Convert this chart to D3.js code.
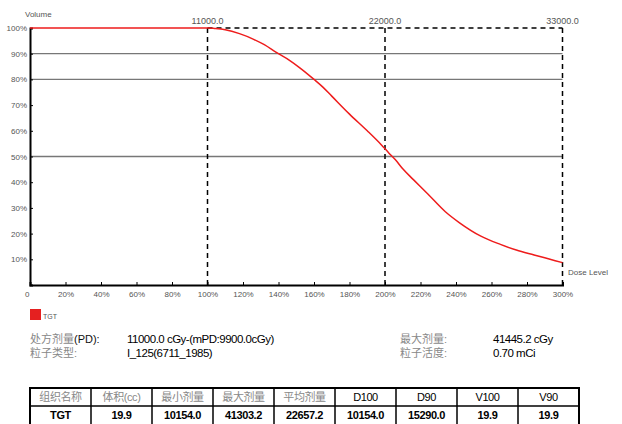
<!DOCTYPE html>
<html>
<head>
<meta charset="utf-8">
<script src="https://cdn.jsdelivr.net/npm/d3@7"></script>
<style>
  body { margin: 0; background: #fff; font-family: "Liberation Sans", Arial, "Noto Sans CJK SC", sans-serif; }
  svg text { font-family: "Liberation Sans", Arial, "Noto Sans CJK SC", sans-serif; }
</style>
</head>
<body>
<div id="chart"></div>
<script>
// DVH curve: dose as % of prescription, volume as %
var dosePct = [0, 100, 104, 110, 118, 126, 132, 139, 146, 152, 160, 165, 170, 180, 190, 198, 202, 206, 210, 216, 224, 234, 242, 254, 265, 274, 284, 292, 300];
var volumePct = [100, 100, 99.8, 99.3, 97.8, 95.6, 93.5, 90.4, 87.5, 84.5, 80, 77, 73.5, 66.5, 60, 54.5, 51.5, 48.6, 45.2, 41, 35.5, 28.5, 24.2, 19, 15.8, 13.6, 11.7, 10.2, 8.7];

var xTicks = [20, 40, 60, 80, 100, 120, 140, 160, 180, 200, 220, 240, 260, 280, 300];
var yTicks = [10, 20, 30, 40, 50, 60, 70, 80, 90, 100];
var gridLevels = [90, 80, 50];
var doseMarks = [100, 200, 300];
var doseMarkLabels = ['11000.0', '22000.0', '33000.0'];

var tableHeaders = ['组织名称', '体积(cc)', '最小剂量', '最大剂量', '平均剂量', 'D100', 'D90', 'V100', 'V90'];
var tableRow = ['TGT', '19.9', '10154.0', '41303.2', '22657.2', '10154.0', '15290.0', '19.9', '19.9'];

var width = 622, height = 424;
var svg = d3.select('#chart').append('svg').attr('width', width).attr('height', height);

var x = d3.scaleLinear().domain([0, 300]).range([30, 562.5]);
var y = d3.scaleLinear().domain([0, 100]).range([285, 28]);

// horizontal grid lines
svg.selectAll('.grid')
    .data(gridLevels)
    .enter().append('line')
    .attr('x1', x(0)).attr('x2', x(300))
    .attr('y1', function(d) { return y(d); })
    .attr('y2', function(d) { return y(d); })
    .attr('stroke', '#777').attr('stroke-width', 1.3);

// dashed top line from prescription to max
svg.append('line')
    .attr('x1', x(100)).attr('x2', x(300))
    .attr('y1', y(100)).attr('y2', y(100))
    .attr('stroke', '#000').attr('stroke-width', 1.5)
    .attr('stroke-dasharray', '5,4');

// vertical dashed dose lines
svg.selectAll('.vmark')
    .data(doseMarks)
    .enter().append('line')
    .attr('x1', function(d) { return x(d); })
    .attr('x2', function(d) { return x(d); })
    .attr('y1', y(100)).attr('y2', y(0))
    .attr('stroke', '#000').attr('stroke-width', 1.5)
    .attr('stroke-dasharray', '5,4');

svg.selectAll('.vlabel')
    .data(doseMarks)
    .enter().append('text')
    .attr('x', function(d) { return x(d); })
    .attr('y', 24)
    .attr('text-anchor', 'middle')
    .attr('font-size', 9)
    .attr('fill', '#555')
    .text(function(d, i) { return doseMarkLabels[i]; });

// axes
var yAxis = d3.axisLeft(y).tickValues(yTicks).tickSize(-3).tickPadding(3)
    .tickFormat(function(d) { return d + '%'; });
var gy = svg.append('g').attr('transform', 'translate(' + x(0) + ',0)').call(yAxis);
gy.select('.domain').attr('stroke-width', 2);
gy.selectAll('text').attr('font-size', 8).attr('fill', '#555');

var xAxis = d3.axisBottom(x).tickValues(xTicks).tickSize(-3).tickPadding(6)
    .tickFormat(function(d) { return d + '%'; });
var gx = svg.append('g').attr('transform', 'translate(0,' + y(0) + ')').call(xAxis);
gx.select('.domain').attr('stroke-width', 2);
gx.selectAll('text').attr('font-size', 8).attr('fill', '#555');

svg.append('text').attr('x', 25).attr('y', 297).attr('font-size', 8).attr('fill', '#555').text('0');
svg.append('text').attr('x', 25).attr('y', 17).attr('font-size', 8).attr('fill', '#555').text('Volume');
svg.append('text').attr('x', 568).attr('y', 275).attr('font-size', 8).attr('fill', '#555').text('Dose Level');

// DVH curve
var line = d3.line()
    .x(function(d, i) { return x(dosePct[i]); })
    .y(function(d) { return y(d); })
    .curve(d3.curveMonotoneX);

svg.append('path')
    .datum(volumePct)
    .attr('fill', 'none')
    .attr('stroke', '#ee1c1c')
    .attr('stroke-width', 1.5)
    .attr('d', line);

// legend
svg.append('rect').attr('x', 30).attr('y', 309).attr('width', 11).attr('height', 11).attr('fill', '#e52020');
svg.append('text').attr('x', 43).attr('y', 319).attr('font-size', 7).attr('fill', '#555').text('TGT');

// info lines
function info(xp, yp, label) {
    svg.append('text').attr('x', xp).attr('y', yp).attr('font-size', 11).attr('fill', '#888').text(label);
}
var t1 = svg.append('text').attr('x', 30).attr('y', 343).attr('font-size', 11);
t1.append('tspan').attr('fill', '#888').text('处方剂量');
t1.append('tspan').attr('fill', '#111').text('(PD):');
info(30, 357, '粒子类型:');
info(400, 343, '最大剂量:');
info(400, 357, '粒子活度:');

function value(xp, yp, txt) {
    svg.append('text').attr('x', xp).attr('y', yp).attr('font-size', 11.5)
        .attr('fill', '#000').attr('letter-spacing', -0.5).text(txt);
}
value(127, 343, '11000.0 cGy-(mPD:9900.0cGy)');
value(127, 357, 'I_125(6711_1985)');
value(493, 343, '41445.2 cGy');
value(493, 357, '0.70 mCi');

// table
var colX = d3.scaleBand().domain(d3.range(tableHeaders.length)).range([30, 579]);
var rowY = d3.scaleBand().domain([0, 1]).range([388, 424]);
var rows = [tableHeaders, tableRow];

rows.forEach(function(row, r) {
    svg.selectAll('.cell' + r)
        .data(row)
        .enter().append('text')
        .attr('x', function(d, i) { return colX(i) + colX.bandwidth() / 2; })
        .attr('y', rowY(r) + rowY.bandwidth() / 2 + 4)
        .attr('text-anchor', 'middle')
        .attr('font-size', 11)
        .attr('letter-spacing', -0.4)
        .attr('fill', function(d) { return /[\u4e00-\u9fff]/.test(d) && r === 0 ? '#888' : '#000'; })
        .attr('font-weight', r === 1 ? 'bold' : 'normal')
        .text(function(d) { return d; });
});

svg.selectAll('.colline')
    .data(d3.range(1, tableHeaders.length))
    .enter().append('line')
    .attr('x1', function(d) { return colX(d); })
    .attr('x2', function(d) { return colX(d); })
    .attr('y1', 388).attr('y2', 424)
    .attr('stroke', '#000').attr('stroke-width', 1.5);

svg.append('line').attr('x1', 30).attr('x2', 579).attr('y1', rowY(1)).attr('y2', rowY(1))
    .attr('stroke', '#000').attr('stroke-width', 1.5);
svg.append('rect').attr('x', 30).attr('y', 388).attr('width', 549).attr('height', 40)
    .attr('fill', 'none').attr('stroke', '#000').attr('stroke-width', 2);
</script>
</body>
</html>
